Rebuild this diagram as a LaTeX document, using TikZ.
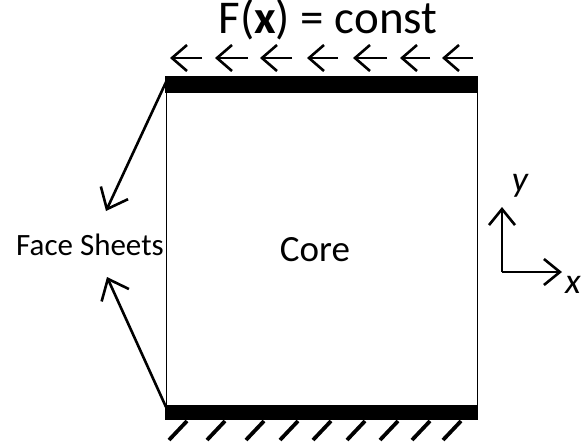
\documentclass[tikz,border=0pt]{standalone}
\usepackage{fontspec}
\setmainfont{Carlito}
\usetikzlibrary{arrows.meta}
\begin{document}
\begin{tikzpicture}[x=1pt,y=-1pt,
  sheet/.style={fill=black,draw=none},
  corebox/.style={draw=black,line width=0.8pt},
  force/.style={line width=2.6pt,-{Straight Barb[length=15pt,width=26pt,line width=2.6pt]}},
  lbl/.style={line width=2.6pt,-{Straight Barb[length=18pt,width=30pt,line width=2.6pt]}},
  hatch/.style={line width=3.8pt},
  axis/.style={line width=2.6pt,-{Straight Barb[length=16pt,width=26pt,line width=2.6pt]}}]
\useasboundingbox (0,0) rectangle (581,445);
% core
\draw[corebox] (166,92) rectangle (477,406);
% face sheets
\fill[sheet] (165,76) rectangle (478,93);
\fill[sheet] (165,405) rectangle (478,420);
\coordinate (tl) at (167,80);
\coordinate (bl) at (166,407);
% title
\node (title) at (328,20) {\fontsize{47}{50}\selectfont F(\textbf{x}) = const};
% load arrows
\foreach \a/\b [count=\i] in {202/170,248/215,292/260,338/307,387/353,430/400,473/442}{
  \coordinate (fs\i) at (\a,58);
  \coordinate (fe\i) at (\b,58);
  \draw[force] (fs\i) -- (fe\i);
}
% hatches
\foreach \x [count=\i] in {169,207,246,280,313,347,380,412,443}{
  \coordinate (hs\i) at (\x,440);
  \coordinate (he\i) at (\x+18,421);
  \draw[hatch] (hs\i) -- (he\i);
}
% labels
\node (core) at (315,250) {\fontsize{37}{40}\selectfont Core};
\node (face) at (90,245) {\fontsize{31}{34}\selectfont Face Sheets};
\coordinate (ft) at (106,211);
\coordinate (fb) at (107,277);
\draw[lbl] (tl) -- (ft);
\draw[lbl] (bl) -- (fb);
% axes
\coordinate (o) at (502,272);
\coordinate (yt) at (502,207);
\coordinate (xt) at (562,272);
\draw[axis] (o) -- (yt);
\draw[axis] (o) -- (xt);
\node (ylab) at (520,186) {\fontsize{36}{38}\selectfont\itshape y};
\node (xlab) at (573,285) {\fontsize{36}{38}\selectfont\itshape x};
\end{tikzpicture}
\end{document}
